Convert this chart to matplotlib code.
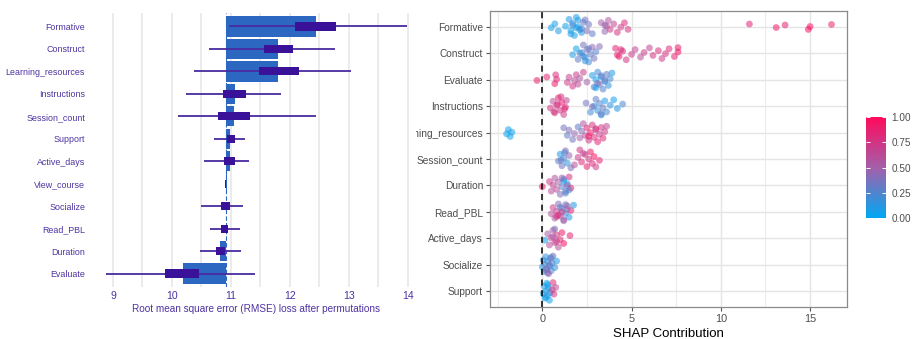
import numpy as np
import matplotlib
matplotlib.use("Agg")
import matplotlib.pyplot as plt
from matplotlib.colors import LinearSegmentedColormap
from matplotlib.transforms import Bbox, TransformedBbox
from matplotlib.ticker import MultipleLocator

plt.rcParams['font.family'] = ['Liberation Sans', 'DejaVu Sans']

# ---------------- Left panel: permutation importance ----------------
perm_features = ["Formative", "Construct", "Learning_resources", "Instructions",
                 "Session_count", "Support", "Active_days", "View_course",
                 "Socialize", "Read_PBL", "Duration", "Evaluate"]
full_model_rmse = 10.91
perm_mean = [12.44, 11.79, 11.79, 11.07, 11.05, 10.99, 10.98, 10.93,
             10.92, 10.92, 10.82, 10.18]
perm_q1 = [12.08, 11.56, 11.48, 10.87, 10.78, 10.94, 10.89, 10.90,
           10.83, 10.83, 10.74, 9.89]
perm_q3 = [12.79, 12.05, 12.15, 11.26, 11.32, 11.07, 11.07, 10.92,
           10.98, 10.95, 10.90, 10.46]
perm_min = [10.97, 10.63, 10.38, 10.24, 10.10, 10.71, 10.54, 10.90,
            10.50, 10.65, 10.47, 8.88]
perm_max = [13.98, 12.76, 13.04, 11.85, 12.44, 11.24, 11.31, 10.92,
            11.20, 11.15, 11.17, 11.41]

# ---------------- Right panel: SHAP values ----------------
shap_features = ["Formative", "Construct", "Evaluate", "Instructions",
                 "Learning_resources", "Session_count", "Duration", "Read_PBL",
                 "Active_days", "Socialize", "Support"]

shap_formative = [0.5, 0.7, 0.9, 1.3, 1.5, 1.6, 1.7, 1.8, 1.9, 2.0, 2.2, 1.7, 1.9,
                  2.1, 2.3, 1.6, 2.0, 2.4, 2.5, 2.6, 2.8, 2.2,
                  3.3, 3.5, 3.6, 3.7, 3.8, 4.0, 4.2, 4.4, 4.6, 4.8, 3.5,
                  11.6, 13.1, 13.6, 14.9, 15.0, 16.2]
val_formative = [0.05, 0.08, 0.1, 0.05, 0.1, 0.05, 0.15, 0.08, 0.05, 0.1, 0.12, 0.2,
                 0.06, 0.1, 0.3, 0.08, 0.04, 0.35, 0.4, 0.35, 0.3, 0.25,
                 0.5, 0.45, 0.6, 0.55, 0.7, 0.65, 0.75, 0.7, 0.8, 0.75, 0.45,
                 0.85, 0.9, 0.85, 0.95, 0.95, 0.85]

shap_construct = [1.7, 1.9, 2.0, 2.2, 2.3, 2.4, 2.5, 2.6, 2.7, 2.8, 2.9, 3.0, 3.2,
                  2.3, 2.6, 2.4, 2.1,
                  4.1, 4.3, 4.5, 4.7, 5.0, 5.2, 5.5, 5.7, 6.0, 6.2, 6.5, 6.7,
                  6.9, 7.1, 7.4, 7.6, 7.6, 4.2, 4.4]
val_construct = [0.1, 0.05, 0.3, 0.15, 0.35, 0.1, 0.4, 0.2, 0.3, 0.45, 0.35, 0.25, 0.4,
                 0.25, 0.3, 0.15, 0.2,
                 0.85, 0.9, 0.8, 0.75, 0.7, 0.65, 0.6, 0.7, 0.65, 0.75, 0.8, 0.7,
                 0.75, 0.8, 0.85, 0.95, 0.9, 0.85, 0.8]

shap_evaluate = [-0.3, 0.25, 0.7, 0.8, 0.75, 1.4, 1.5, 1.7, 1.8, 1.9, 2.0, 2.1, 2.3,
                 2.5, 2.8, 2.9, 3.0, 3.1, 3.2, 3.3, 3.4, 3.5, 3.6, 3.7, 3.8, 3.9,
                 3.1, 3.3, 3.0, 3.5]
val_evaluate = [0.9, 0.85, 0.9, 0.85, 0.8, 0.7, 0.65, 0.75, 0.6, 0.7, 0.65, 0.55, 0.7,
                0.5, 0.1, 0.3, 0.05, 0.2, 0.35, 0.1, 0.25, 0.05, 0.3, 0.15, 0.2, 0.1,
                0.4, 0.3, 0.05, 0.35]

shap_instructions = [0.45, 0.6, 0.7, 0.8, 0.9, 1.0, 1.1, 1.2, 1.3, 1.35, 0.65, 0.85,
                     1.05, 1.25, 2.45, 2.7, 2.9, 3.0, 3.1, 3.2, 3.3, 3.4, 3.5, 3.6,
                     3.8, 4.0, 4.2, 4.5, 3.3, 2.8]
val_instructions = [0.75, 0.6, 0.8, 0.7, 0.85, 0.75, 0.9, 0.7, 0.8, 0.65, 0.7, 0.8,
                    0.75, 0.85, 0.35, 0.2, 0.1, 0.3, 0.15, 0.25, 0.05, 0.3, 0.1, 0.2,
                    0.15, 0.05, 0.1, 0.2, 0.35, 0.4]

shap_learning = [-2.0, -1.9, -1.8, -1.7, 1.2, 1.4, 1.5, 1.7, 1.8, 2.0, 2.1, 2.2, 2.3,
                 2.4, 2.5, 2.6, 2.7, 2.8, 2.9, 3.0, 3.1, 3.2, 3.3, 3.4, 3.5, 3.6,
                 2.6, 3.0]
val_learning = [0.02, 0.05, 0.03, 0.06, 0.35, 0.3, 0.4, 0.35, 0.45, 0.3, 0.5, 0.4, 0.55,
                0.6, 0.85, 0.7, 0.9, 0.75, 0.8, 0.65, 0.85, 0.7, 0.75, 0.8, 0.7, 0.65,
                0.95, 0.8]

shap_session = [0.9, 1.0, 1.1, 1.2, 1.3, 1.4, 1.5, 1.6, 1.05, 1.25, 1.8, 2.0, 2.1,
                2.2, 2.4, 2.5, 2.6, 2.7, 2.8, 2.9, 3.0, 3.2, 2.3]
val_session = [0.3, 0.1, 0.35, 0.2, 0.4, 0.15, 0.45, 0.35, 0.3, 0.25, 0.6, 0.7, 0.75,
               0.8, 0.7, 0.85, 0.75, 0.9, 0.8, 0.95, 0.7, 0.85, 0.65]

shap_duration = [0.0, 0.4, 0.5, 0.6, 0.7, 0.8, 0.9, 1.0, 1.1, 1.2, 1.3, 1.4, 1.5, 1.6,
                 1.2, 1.3, 1.4, 1.1, 1.5]
val_duration = [0.9, 0.7, 0.6, 0.65, 0.55, 0.6, 0.5, 0.4, 0.3, 0.1, 0.35, 0.15, 0.8,
                0.9, 0.05, 0.25, 0.45, 0.5, 0.2]

shap_readpbl = [0.5, 0.6, 0.7, 0.8, 0.9, 1.0, 1.1, 1.2, 1.3, 1.4, 1.5, 1.6, 1.75, 0.9,
                1.0, 1.2, 1.1, 1.3, 0.8, 1.4]
val_readpbl = [0.6, 0.7, 0.5, 0.65, 0.4, 0.55, 0.3, 0.45, 0.2, 0.6, 0.1, 0.9, 0.1, 0.75,
               0.3, 0.5, 0.7, 0.35, 0.8, 0.4]

shap_active = [0.15, 0.3, 0.4, 0.5, 0.6, 0.7, 0.8, 0.9, 1.0, 1.1, 1.2, 0.6, 0.7, 0.8,
               1.55]
val_active = [0.05, 0.5, 0.6, 0.7, 0.55, 0.65, 0.75, 0.6, 0.8, 0.9, 0.95, 0.5, 0.4,
              0.7, 0.85]

shap_socialize = [0.0, 0.05, 0.1, 0.15, 0.2, 0.25, 0.3, 0.35, 0.4, 0.45, 0.5, 0.55, 0.6,
                  0.7, 0.8, 0.3, 0.4, 0.5, 0.2]
val_socialize = [0.1, 0.2, 0.05, 0.3, 0.15, 0.4, 0.1, 0.35, 0.2, 0.45, 0.25, 0.3, 0.4,
                 0.15, 0.1, 0.5, 0.3, 0.2, 0.35]

shap_support = [0.05, 0.1, 0.15, 0.2, 0.25, 0.3, 0.35, 0.4, 0.45, 0.3, 0.2, 0.55, 0.6,
                0.65, 0.75]
val_support = [0.05, 0.1, 0.03, 0.08, 0.05, 0.1, 0.06, 0.04, 0.12, 0.05, 0.09, 0.7, 0.8,
               0.75, 0.65]

shap_x = [shap_formative, shap_construct, shap_evaluate, shap_instructions,
          shap_learning, shap_session, shap_duration, shap_readpbl,
          shap_active, shap_socialize, shap_support]
shap_v = [val_formative, val_construct, val_evaluate, val_instructions,
          val_learning, val_session, val_duration, val_readpbl,
          val_active, val_socialize, val_support]

cbar_ticks = [0.0, 0.25, 0.5, 0.75, 1.0]
cbar_labels = ["0.00", "0.25", "0.50", "0.75", "1.00"]

# ---------------- Figure ----------------
W, H = 916, 339
fig = plt.figure(figsize=(W / 100, H / 100), dpi=100)
fig.patch.set_facecolor("white")

purple_txt = "#4e33a0"
bar_col = "#2c68c2"
box_col = "#3a1199"
whisk_col = "#4a2ba0"

ax1 = fig.add_axes([90.6 / W, 1 - 287 / H, (422 - 90.6) / W, (287 - 13) / H])
ypos = np.arange(len(perm_features))
ax1.axvline(full_model_rmse, color=bar_col, lw=0.8, ls=(0, (4, 2)), zorder=1)
widths = np.array(perm_mean) - full_model_rmse
ax1.barh(ypos, widths, left=full_model_rmse, height=0.9, color=bar_col,
         edgecolor="none", zorder=2)
ax1.hlines(ypos, perm_min, perm_max, color=whisk_col, lw=1.3, zorder=3)
ax1.barh(ypos, np.array(perm_q3) - np.array(perm_q1), left=perm_q1, height=0.36,
         color=box_col, edgecolor="none", zorder=4)
ax1.set_xlim(8.62, 14.24)
ax1.set_ylim(len(perm_features) - 0.4, -0.6)
ax1.set_xticks(np.arange(9, 15, 1))
ax1.xaxis.set_minor_locator(MultipleLocator(0.5))
ax1.grid(True, axis="x", which="both", color="#e6e6e6", lw=1.1, zorder=0)
ax1.set_axisbelow(True)
ax1.set_yticks(ypos)
ax1.set_yticklabels(perm_features)
for s in ax1.spines.values():
    s.set_visible(False)
ax1.tick_params(axis="both", which="both", length=0)
ax1.tick_params(axis="y", pad=4, labelsize=6.4, labelcolor=purple_txt)
ax1.tick_params(axis="x", which="major", pad=3, labelsize=7.6, labelcolor=purple_txt)
ax1.set_xlabel("Root mean square error (RMSE) loss after permutations",
               fontsize=7.2, color=purple_txt, labelpad=2)

# right panel
cmap = LinearSegmentedColormap.from_list("shap", ["#00a8f3", "#a45fa9", "#ff0a5c"])
ax2 = fig.add_axes([490 / W, 1 - 306.7 / H, (846.7 - 490) / W, (306.7 - 11.3) / H])
golden = 0.6180339887
for r, (xs, vs) in enumerate(zip(shap_x, shap_v)):
    xa = np.asarray(xs, dtype=float)
    n = len(xa)
    # sina-style spread: jitter width scaled by local point density
    dens = np.exp(-0.5 * ((xa[:, None] - xa[None, :]) / 0.45) ** 2).sum(axis=1)
    scale = np.sqrt(dens / dens.max())
    base = np.array([((i + 1) * golden) % 1.0 - 0.5 for i in range(n)])
    offs = base * 0.76 * np.clip(scale, 0.25, 1.0)
    ax2.scatter(xa, r + offs, c=vs, cmap=cmap, vmin=0, vmax=1, s=24, alpha=0.55,
                edgecolors="none", zorder=3)
ax2.axvline(0, color="black", lw=1.1, ls=(0, (4, 3)), zorder=4)
ax2.set_xlim(-2.93, 17.05)
ax2.set_ylim(len(shap_features) - 0.42, -0.58)
ax2.set_xticks([0, 5, 10, 15])
ax2.xaxis.set_minor_locator(MultipleLocator(2.5))
ax2.set_yticks(np.arange(len(shap_features)))
ax2.set_yticklabels(shap_features)
ax2.grid(True, which="major", color="#e5e5e5", lw=1.0, zorder=0)
ax2.grid(True, axis="x", which="minor", color="#ececec", lw=0.8, zorder=0)
ax2.set_axisbelow(True)
for s in ax2.spines.values():
    s.set_color("#8a8a8a")
    s.set_linewidth(0.9)
ax2.tick_params(axis="both", which="major", length=3, color="#555555", width=0.8,
                labelsize=7.3, labelcolor="#4d4d4d", pad=2)
ax2.tick_params(axis="x", which="major", labelsize=7.8)
ax2.tick_params(axis="x", which="minor", length=0)
ax2.set_xlabel("SHAP Contribution", fontsize=9.5, color="black", labelpad=3)

clip = TransformedBbox(Bbox([[416 / W, 0], [1, 1]]), fig.transFigure)
for lab in ax2.get_yticklabels():
    lab.set_clip_box(clip)
    lab.set_clip_on(True)

# colorbar
cax = fig.add_axes([866 / W, 1 - 218 / H, 20 / W, 101 / H])
sm = plt.cm.ScalarMappable(cmap=cmap, norm=plt.Normalize(0, 1))
cb = fig.colorbar(sm, cax=cax, ticks=cbar_ticks)
cb.ax.set_yticklabels(cbar_labels)
cb.outline.set_visible(False)
cax.tick_params(length=0, labelsize=7.2, labelcolor="#4d4d4d", pad=4)
cax.hlines(cbar_ticks, 0, 0.2, colors="white", lw=0.7)
cax.hlines(cbar_ticks, 0.8, 1.0, colors="white", lw=0.7)

fig.savefig("out.png", dpi=100)
